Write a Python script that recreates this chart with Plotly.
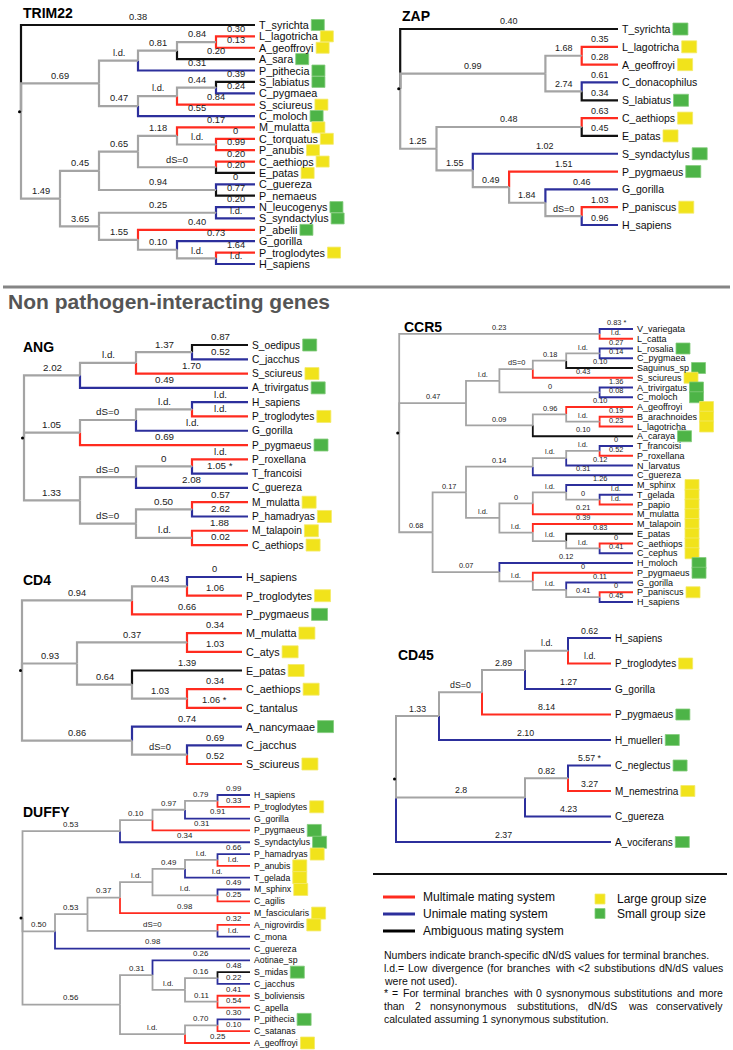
import plotly.graph_objects as go

# ======================= DATA =======================
# Tree notation: leaf  = Name/branch label/branch colour/group
#                clade = (child,child,...)branch label/colour
# colours: r = multimale, b = unimale, k = ambiguous, g = internal (grey)
# groups : Y = large group size, G = small group size, - = none

TRIM22_TREE = (
    "(T_syrichta/0.38/k/G,"
    "((((L_lagotricha/0.30/r/Y,A_geoffroyi/0.13/r/Y)0.84/g,A_sara/0.20/k/G)0.81/g,P_pithecia/0.31/b/G)l.d./g,"
    "(((S_labiatus/0.39/k/G,C_pygmaea/0.24/b/-)0.44/g,S_sciureus/0.84/r/Y)l.d./g,C_moloch/0.55/b/G)0.47/g)0.69/g,"
    "((((M_mulatta/0.17/r/Y,(C_torquatus/0/r/Y,P_anubis/0.99/r/Y)l.d./g)1.18/g,"
    "(C_aethiops/0.20/r/Y,E_patas/0.20/k/Y)dS=0/g)0.65/g,"
    "(C_guereza/0/b/-,P_nemaeus/0.77/k/-)0.94/g)0.45/g,"
    "((N_leucogenys/0.20/b/G,S_syndactylus/l.d./b/G)0.25/g,"
    "(P_abelii/0.40/r/G,(G_gorilla/0.73/b/-,(P_troglodytes/1.64/r/Y,H_sapiens/l.d./b/-)l.d./g)0.10/g)1.55/g)3.65/g)1.49/g)"
)

ZAP_TREE = (
    "(T_syrichta/0.40/k/G,"
    "((L_lagotricha/0.35/r/Y,A_geoffroyi/0.28/r/Y)1.68/g,(C_donacophilus/0.61/b/-,S_labiatus/0.34/k/G)2.74/g)0.99/g,"
    "((C_aethiops/0.63/r/Y,E_patas/0.45/k/Y)0.48/g,"
    "(S_syndactylus/1.02/b/G,(P_pygmaeus/1.51/r/G,(G_gorilla/0.46/b/-,"
    "(P_paniscus/1.03/r/Y,H_sapiens/0.96/b/-)dS=0/g)1.84/g)0.49/g)1.55/g)1.25/g)"
)

ANG_TREE = (
    "((((S_oedipus/0.87/k/G,C_jacchus/0.52/b/-)1.37/g,S_sciureus/1.70/r/Y)l.d./g,A_trivirgatus/0.49/b/G)2.02/g,"
    "(((H_sapiens/l.d./b/-,P_troglodytes/l.d./r/Y)l.d./g,G_gorilla/l.d./b/-)dS=0/g,P_pygmaeus/0.69/r/G)1.05/g,"
    "(((P_roxellana/l.d./r/-,T_francoisi/1.05 */b/-)0/g,C_guereza/2.08/b/-)dS=0/g,"
    "((M_mulatta/0.57/r/Y,P_hamadryas/2.62/b/Y)0.50/g,(M_talapoin/1.88/r/Y,C_aethiops/0.02/r/Y)l.d./g)dS=0/g)1.33/g)"
)

CD4_TREE = (
    "(((H_sapiens/0/b/-,P_troglodytes/1.06/r/Y)0.43/g,P_pygmaeus/0.66/r/G)0.94/g,"
    "((M_mulatta/0.34/r/Y,C_atys/1.03/r/Y)0.37/g,"
    "(E_patas/1.39/k/Y,(C_aethiops/0.34/r/Y,C_tantalus/1.06 */r/-)1.03/g)0.64/g)0.93/g,"
    "(A_nancymaae/0.74/b/G,(C_jacchus/0.69/b/-,S_sciureus/0.52/r/Y)dS=0/g)0.86/g)"
)

CD45_TREE = (
    "(((((H_sapiens/0.62/b/-,P_troglodytes/l.d./r/Y)l.d./g,G_gorilla/1.27/b/-)2.89/g,P_pygmaeus/8.14/r/G)dS=0/g,"
    "H_muelleri/2.10/b/G)1.33/g,"
    "((C_neglectus/5.57 */b/G,M_nemestrina/3.27/r/Y)0.82/g,C_guereza/4.23/b/-)2.8/g,"
    "A_vociferans/2.37/b/G)"
)

CCR5_STREP = "(V_variegata/0.83 */b/-,L_catta/l.d./r/-)0.23/g"
CCR5_NWM = (
    "(((((L_rosalia/0.27/b/G,C_pygmaea/0.14/b/-)l.d./g,Saguinus_sp/0.10/k/G)0.18/g,S_sciureus/0.43/r/Y)dS=0/g,"
    "(A_trivirgatus/1.36/b/G,C_moloch/0.08/b/G)0/g)l.d./g,"
    "((A_geoffroyi/0.10/r/Y,(B_arachnoides/0.19/r/Y,L_lagotricha/0.23/r/Y)l.d./g)0.96/g,A_caraya/0.10/k/G)0.09/g)0.47/g"
)
CCR5_COLOB = "(((T_francoisi/0/b/-,P_roxellana/0.52/r/-)l.d./g,N_larvatus/0.12/b/-)l.d./g,C_guereza/0.31/b/-)0.14/g"
CCR5_PAPIO = "((M_sphinx/1.26/b/Y,(T_gelada/l.d./b/Y,P_papio/l.d./r/Y)0/g)l.d./g,M_mulatta/0.21/r/Y)0/g"
CCR5_CERCO = "(M_talapoin/0.39/r/Y,(E_patas/0.83/k/Y,(C_aethiops/0/r/Y,C_cephus/0.41/b/Y)l.d./g)l.d./g)l.d./g"
CCR5_APES = "(H_moloch/0.12/b/G,(P_pygmaeus/0/r/G,(G_gorilla/0.11/b/-,(P_paniscus/0/r/Y,H_sapiens/0.45/b/-)0.41/g)l.d./g)l.d./g)0.07/g"
CCR5_TREE = ("(" + CCR5_STREP + "," + CCR5_NWM + ",((" + CCR5_COLOB + ",(" + CCR5_PAPIO + "," + CCR5_CERCO
             + ")l.d./g)0.17/g," + CCR5_APES + ")0.68/g)")

DUFFY_APES = "((((H_sapiens/0.99/b/-,P_troglodytes/0.33/r/Y)0.79/g,G_gorilla/0.91/b/-)0.97/g,P_pygmaeus/0.31/r/G)0.10/g,S_syndactylus/0.34/b/G)0.53/g"
DUFFY_OWM = (
    "((((((P_hamadryas/0.66/b/Y,P_anubis/l.d./r/Y)l.d./g,T_gelada/l.d./b/Y)0.49/g,"
    "(M_sphinx/0.49/b/Y,C_agilis/0.25/r/-)l.d./g)l.d./g,M_fascicularis/0.98/r/Y)0.37/g,"
    "(A_nigrovirdis/0.32/r/Y,C_mona/l.d./b/-)dS=0/g)0.53/g,C_guereza/0.98/b/-)0.50/g"
)
DUFFY_NWM = (
    "((Aotinae_sp/0.26/b/-,((S_midas/0.48/k/G,C_jacchus/0.22/b/-)0.16/g,"
    "(S_boliviensis/0.41/r/-,C_apella/0.54/r/-)0.11/g)l.d./g)0.31/g,"
    "((P_pithecia/0.30/b/G,C_satanas/0.10/r/-)0.70/g,A_geoffroyi/0.25/r/Y)l.d./g)0.56/g"
)
DUFFY_TREE = "(" + DUFFY_APES + "," + DUFFY_OWM + "," + DUFFY_NWM + ")"

HEADER = "Non pathogen-interacting genes"
MATING_LABELS = ["Multimale mating system", "Unimale mating system", "Ambiguous mating system"]
MATING_KEYS = ["r", "b", "k"]
GROUP_LABELS = ["Large group size", "Small group size"]
GROUP_KEYS = ["Y", "G"]
NOTE_LINES = [
    "Numbers indicate branch-specific dN/dS values for terminal branches.",
    "l.d.= Low divergence (for branches with <2 substibutions dN/dS values",
    "were not used).",
    "* = For terminal branches with 0 sysnonymous substitutions and more",
    "than 2 nonsynonymous substitutions, dN/dS was conservatively",
    "calculated assuming 1 synonymous substitution.",
]
NOTE_JUSTIFY = [False, True, False, True, True, False]

# ======================= STYLE / LAYOUT =======================
FONT = "Arial, 'Liberation Sans', Helvetica, sans-serif"
COL = {"r": "#ff2b1f", "b": "#2c2f9c", "k": "#111111", "g": "#a4a4a4"}
GRP = {"Y": ("#f1e31b", "#f4ea6a"), "G": ("#4db447", "#84cc7c")}

AW = {' ': 278, '!': 278, '(': 333, ')': 333, '*': 389, ',': 278, '-': 333, '.': 278, '/': 278, ':': 278,
      '<': 584, '=': 584, '>': 584, '_': 556,
      'A': 667, 'B': 667, 'C': 722, 'D': 722, 'E': 667, 'F': 611, 'G': 778, 'H': 722, 'I': 278, 'J': 500,
      'K': 667, 'L': 556, 'M': 833, 'N': 722, 'O': 778, 'P': 667, 'Q': 778, 'R': 722, 'S': 667, 'T': 611,
      'U': 722, 'V': 667, 'W': 944, 'X': 667, 'Y': 667, 'Z': 611,
      'a': 556, 'b': 556, 'c': 500, 'd': 556, 'e': 556, 'f': 278, 'g': 556, 'h': 556, 'i': 222, 'j': 222,
      'k': 500, 'l': 222, 'm': 833, 'n': 556, 'o': 556, 'p': 556, 'q': 556, 'r': 333, 's': 500, 't': 278,
      'u': 556, 'v': 500, 'w': 722, 'x': 500, 'y': 500, 'z': 500}


def text_w(s, size):
    return sum(AW.get(c, 556) for c in s) * size / 1000.0


def esc(s):
    return s.replace("&", "&amp;").replace("<", "&lt;").replace(">", "&gt;")


def parse(s):
    pos = [0]

    def node():
        if s[pos[0]] == "(":
            pos[0] += 1
            kids = [node()]
            while s[pos[0]] == ",":
                pos[0] += 1
                kids.append(node())
            assert s[pos[0]] == ")", s[pos[0]:pos[0] + 20]
            pos[0] += 1
            st = pos[0]
            while pos[0] < len(s) and s[pos[0]] not in ",)":
                pos[0] += 1
            tok = s[st:pos[0]]
            if tok:
                lab, c = tok.split("/")
            else:
                lab, c = "", "g"
            return {"kids": kids, "label": lab, "color": c}
        st = pos[0]
        while pos[0] < len(s) and s[pos[0]] not in ",)":
            pos[0] += 1
        name, lab, c, g = s[st:pos[0]].split("/")
        return {"name": name, "label": lab, "color": c, "grp": g}

    r = node()
    assert pos[0] == len(s)
    return r


fig = go.Figure()
ann = []
shapes = []


def A(x, y, text, size, xanchor="left", yanchor="middle", color="#0d0d0d", bold=False):
    t = esc(text)
    if bold:
        t = "<b>" + t + "</b>"
    ann.append(dict(x=x, y=y, xref="x", yref="y", text=t, showarrow=False, xanchor=xanchor,
                    yanchor=yanchor, borderpad=0, font=dict(family=FONT, size=size, color=color)))


def draw_tree(title, tree, leaf_x, step, y0, dy, title_xy, fs_leaf, fs_lab, lw, sq, align_runs=False):
    root = parse(tree)
    leaves = []

    def lay(n):
        if "kids" in n:
            for k in n["kids"]:
                lay(k)
            n["h"] = 1 + max(k["h"] for k in n["kids"])
            n["y"] = (n["kids"][0]["y"] + n["kids"][-1]["y"]) / 2.0
        else:
            n["h"] = 0
            n["y"] = y0 + len(leaves) * dy
            leaves.append(n)
        n["x"] = leaf_x - step * n["h"]

    lay(root)
    segs = {c: ([], []) for c in "krbg"}

    def walk(n, p):
        if p is not None:
            xs, ys = segs[n["color"]]
            xs += [p["x"], p["x"], n["x"], None]
            ys += [p["y"], n["y"], n["y"], None]
            if n["label"]:
                A((p["x"] + n["x"]) / 2.0, n["y"] - 0.78 * fs_lab - 0.5, n["label"], fs_lab,
                  xanchor="center", color="#1a1a1a")
        for k in n.get("kids", []):
            walk(k, n)

    walk(root, None)
    for c in "krbg":
        xs, ys = segs[c]
        if xs:
            fig.add_trace(go.Scatter(x=xs, y=ys, mode="lines", hoverinfo="skip", showlegend=False,
                                     line=dict(color=COL[c], width=lw)))
    fig.add_trace(go.Scatter(x=[root["x"] - 1.5], y=[root["y"]], mode="markers", hoverinfo="skip",
                             showlegend=False, marker=dict(size=3, color="#000000")))

    tx = leaf_x + 2.5
    ends = [tx + text_w(l["name"], fs_leaf) for l in leaves]
    if align_runs:
        i = 0
        while i < len(leaves):
            j = i
            while j + 1 < len(leaves) and leaves[j + 1]["grp"] == leaves[i]["grp"]:
                j += 1
            m = max(ends[i:j + 1])
            for t in range(i, j + 1):
                ends[t] = m
            i = j + 1
    for l, e in zip(leaves, ends):
        A(tx, l["y"], l["name"], fs_leaf)
        if l["grp"] in GRP:
            fill, edge = GRP[l["grp"]]
            shapes.append(dict(type="rect", xref="x", yref="y", x0=e + 4, x1=e + 4 + sq[0],
                               y0=l["y"] - sq[1] / 2.0, y1=l["y"] + sq[1] / 2.0,
                               fillcolor=fill, line=dict(color=edge, width=0.8), layer="above"))
    A(title_xy[0], title_xy[1], title, 14, bold=True, color="#000000")


draw_tree("TRIM22", TRIM22_TREE, 255, 39, 25, 11.38, (22, 13), 10.8, 9.3, 2.2, (13, 11))
draw_tree("ZAP", ZAP_TREE, 618, 36.3, 29, 17.82, (401, 16), 10.5, 9.0, 2.2, (15, 12))
draw_tree("ANG", ANG_TREE, 248, 56, 345, 14.29, (22, 347), 10.2, 9.8, 2.2, (14, 12))
draw_tree("CCR5", CCR5_TREE, 633, 33.4, 329, 9.75, (403, 327), 9.0, 7.4, 1.8, (14, 11), align_runs=True)
draw_tree("CD4", CD4_TREE, 242, 55, 577, 18.7, (22, 580), 10.8, 9.3, 2.2, (16, 12))
draw_tree("CD45", CD45_TREE, 611, 43, 638, 25.5, (397, 655), 10.0, 8.8, 2.0, (14, 11))
draw_tree("DUFFY", DUFFY_TREE, 250, 32.5, 795, 11.81, (22, 812), 8.7, 7.9, 1.8, (14, 12))

# header and separators
shapes.append(dict(type="line", xref="x", yref="y", x0=3, x1=730, y0=287, y1=287,
                   line=dict(color="#858585", width=3)))
A(7, 301, HEADER, 21, bold=True, color="#555555")
shapes.append(dict(type="line", xref="x", yref="y", x0=373, x1=727, y0=874, y1=874,
                   line=dict(color="#111111", width=2)))

# legend
for i, (lab, key) in enumerate(zip(MATING_LABELS, MATING_KEYS)):
    y = 897 + i * 17
    shapes.append(dict(type="line", xref="x", yref="y", x0=383, x1=415, y0=y, y1=y,
                       line=dict(color=COL[key] if key != "k" else "#000000", width=3)))
    A(422, y, lab, 12)
for i, (lab, key) in enumerate(zip(GROUP_LABELS, GROUP_KEYS)):
    y = 899 + i * 14.5
    fill, edge = GRP[key]
    shapes.append(dict(type="rect", xref="x", yref="y", x0=595, x1=605, y0=y - 5, y1=y + 5,
                       fillcolor=fill, line=dict(color=edge, width=0.8)))
    A(616, y, lab, 12)

# notes (justified where the original is)
NX0, NX1, NFS = 383, 722, 10.5
for i, (line, just) in enumerate(zip(NOTE_LINES, NOTE_JUSTIFY)):
    y = 955 + i * 12.8
    if not just:
        A(NX0, y, line, NFS)
        continue
    words = line.split(" ")
    ws = [text_w(w, NFS) for w in words]
    gap = (NX1 - NX0 - sum(ws)) / (len(words) - 1)
    x = NX0
    for w, wd in zip(words, ws):
        A(x, y, w, NFS)
        x += wd + gap

fig.update_layout(
    width=733, height=1050, autosize=False,
    margin=dict(l=0, r=0, t=0, b=0, pad=0),
    paper_bgcolor="white", plot_bgcolor="white", showlegend=False,
    xaxis=dict(range=[0, 733], visible=False, fixedrange=True),
    yaxis=dict(range=[1050, 0], visible=False, fixedrange=True),
    annotations=ann, shapes=shapes,
)

fig.write_html("out.html", config={"displayModeBar": False},
               post_script="document.body.style.margin='0';document.body.style.overflow='hidden';")
